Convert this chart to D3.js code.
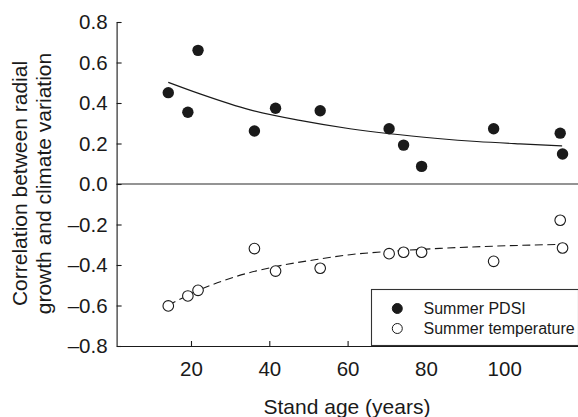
<!DOCTYPE html>
<html>
<head>
<meta charset="utf-8">
<script src="https://cdn.jsdelivr.net/npm/d3@7"></script>
<style>
  html, body { margin: 0; padding: 0; background: #fff; }
  svg { display: block; font-family: "Liberation Sans", Arial, sans-serif; }
</style>
</head>
<body>
<svg id="chart" width="578" height="417"></svg>
<script>
// ---- data ----
const standAge = [14.2, 19.2, 21.8, 36.2, 41.6, 53.0, 70.6, 74.3, 78.9, 97.3, 114.3, 114.9];
const summerPDSI = [0.451, 0.354, 0.660, 0.262, 0.374, 0.362, 0.273, 0.192, 0.087, 0.273, 0.251, 0.148];
const summerTemp = [-0.602, -0.553, -0.525, -0.319, -0.430, -0.416, -0.344, -0.337, -0.337, -0.382, -0.179, -0.316];

// fitted trend lines
const pdsiFitAge = [14.2, 22.3, 35.1, 47.8, 60.6, 70.8, 83.0, 93.0, 104.0, 114.8];
const pdsiFitVal = [0.502, 0.445, 0.366, 0.314, 0.273, 0.248, 0.225, 0.210, 0.198, 0.188];
const tempFitAge = [14.2, 21.9, 30.8, 41.6, 53.0, 60.6, 70.6, 83.6, 100.6, 115.0];
const tempFitVal = [-0.599, -0.525, -0.461, -0.408, -0.370, -0.349, -0.333, -0.318, -0.305, -0.298];

const xTicks = [20, 40, 60, 80, 100];
const yTicks = [-0.8, -0.6, -0.4, -0.2, 0.0, 0.2, 0.4, 0.6, 0.8];
const legendLabels = ["Summer PDSI", "Summer temperature"];
const xTitle = "Stand age (years)";
const yTitleLines = ["Correlation between radial", "growth and climate variation"];

// ---- drawing ----
const svg = d3.select("#chart");
const x = d3.scaleLinear().domain([1, 119]).range([116.6, 578.6]);
const y = d3.scaleLinear().domain([-0.8, 0.8]).range([346, 22]);
const ink = "#1a1a1a";
const fmt = v => (v < 0 ? "\u2013" : "") + Math.abs(v).toFixed(1);

// zero line
svg.append("line")
  .attr("x1", x(1)).attr("x2", 578)
  .attr("y1", y(0)).attr("y2", y(0))
  .attr("stroke", "#707070").attr("stroke-width", 1.6);

// y axis
const yAxis = svg.append("g").attr("transform", `translate(${x(1)},0)`)
  .call(d3.axisLeft(y).tickValues(yTicks).tickFormat(fmt).tickSizeInner(-5).tickSizeOuter(0).tickPadding(9));
// x axis
const xAxis = svg.append("g").attr("transform", `translate(0,${y(-0.8)})`)
  .call(d3.axisBottom(x).tickValues(xTicks).tickSizeInner(-5).tickSizeOuter(0).tickPadding(15));
[yAxis, xAxis].forEach(g => {
  g.selectAll("path, line").attr("stroke", ink).attr("stroke-width", 1.1);
  g.selectAll("text").attr("fill", ink).attr("font-size", "20.5px")
    .attr("font-family", "'Liberation Sans', Arial, sans-serif");
});

// fit lines
const line = d3.line().x(d => x(d[0])).y(d => y(d[1])).curve(d3.curveMonotoneX);
svg.append("path")
  .attr("d", line(d3.zip(pdsiFitAge, pdsiFitVal)))
  .attr("fill", "none").attr("stroke", ink).attr("stroke-width", 1.1);
svg.append("path")
  .attr("d", line(d3.zip(tempFitAge, tempFitVal)))
  .attr("fill", "none").attr("stroke", ink).attr("stroke-width", 1.1)
  .attr("stroke-dasharray", "8,4.5");

// points
svg.append("g").selectAll("circle").data(d3.zip(standAge, summerTemp)).join("circle")
  .attr("cx", d => x(d[0])).attr("cy", d => y(d[1])).attr("r", 5.3)
  .attr("fill", "#fff").attr("stroke", ink).attr("stroke-width", 1.1);
svg.append("g").selectAll("circle").data(d3.zip(standAge, summerPDSI)).join("circle")
  .attr("cx", d => x(d[0])).attr("cy", d => y(d[1])).attr("r", 5.7)
  .attr("fill", ink);

// legend
const lg = svg.append("g");
lg.append("rect").attr("x", 371.5).attr("y", 289.5).attr("width", 207).attr("height", 56)
  .attr("fill", "#fff").attr("stroke", "#333").attr("stroke-width", 1.1);
legendLabels.forEach((lab, i) => {
  const cy = 308.5 + i * 20;
  lg.append("circle").attr("cx", 397.3).attr("cy", cy).attr("r", 5)
    .attr("fill", i === 0 ? ink : "#fff").attr("stroke", ink).attr("stroke-width", 1);
  lg.append("text").attr("x", 423.5).attr("y", cy + 5.5)
    .attr("font-size", "16px").attr("fill", ink).text(lab);
});

// titles
svg.append("text").attr("x", 347).attr("y", 414).attr("text-anchor", "middle")
  .attr("font-size", "21px").attr("fill", ink).text(xTitle);
yTitleLines.forEach((t, i) => {
  svg.append("text")
    .attr("transform", `translate(${27 + i * 23.5},183.5) rotate(-90)`)
    .attr("text-anchor", "middle").attr("font-size", "21px").attr("fill", ink).text(t);
});
</script>
</body>
</html>
